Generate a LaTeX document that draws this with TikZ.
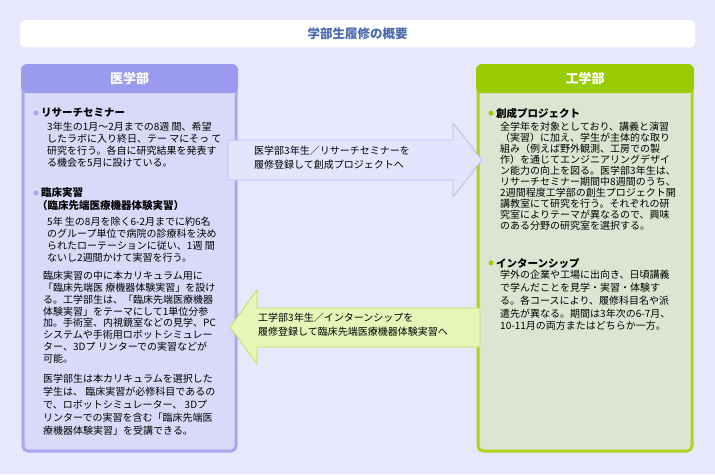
\documentclass[tikz,border=0pt]{standalone}
\usepackage{fontspec}
\setmainfont{Noto Sans CJK JP}
\usetikzlibrary{shadows}
\definecolor{bg}{HTML}{E8E8FC}
\definecolor{lpan}{HTML}{D9D9FA}
\definecolor{lbor}{HTML}{A8A8F2}
\definecolor{lhead}{HTML}{9A9AEE}
\definecolor{rpan}{HTML}{DDE5D2}
\definecolor{rbor}{HTML}{AAD41E}
\definecolor{rhead}{HTML}{99CC00}
\definecolor{ttl}{HTML}{4A6AAE}
\definecolor{larr}{HTML}{E6F5B8}
\definecolor{larrb}{HTML}{C2E060}
\definecolor{rarr}{HTML}{E4E4FD}
\definecolor{rarrb}{HTML}{B8B8F6}
\tikzset{
  para/.style={anchor=north west,align=left,inner sep=0pt,font=\fontsize{10}{11.8}\selectfont},
  head/.style={anchor=west,inner sep=0pt,font=\fontsize{10.5}{12}\selectfont\bfseries},
  lbul/.style={circle,fill=lbor,inner sep=0pt,minimum size=5pt},
  rbul/.style={circle,fill=rhead,inner sep=0pt,minimum size=5pt},
  hdtxt/.style={text=white,font=\fontsize{13}{15}\selectfont\bfseries},
  arrtxt/.style={anchor=north west,align=left,inner sep=0pt,font=\fontsize{10}{13.5}\selectfont}
}
\begin{document}
\begin{tikzpicture}[x=1pt,y=-1pt]
\fill[bg] (0,0) rectangle (715,474);
\useasboundingbox (0,0) rectangle (715,474);
% title
\node[draw=white,fill=white,rounded corners=5pt,minimum width=675,minimum height=27,text=ttl,font=\fontsize{12.5}{14}\selectfont\bfseries] (title) at (357.5,33.5) {学部生履修の概要};
% left panel
\draw[lbor,line width=3pt,fill=lpan,rounded corners=5pt] (23,66) rectangle (236,451);
\fill[lhead,rounded corners=6pt] (21,64) rectangle (238,93);
\node[hdtxt] (lh) at (129.5,78.5) {医学部};
% right panel
\draw[rbor,line width=3pt,fill=rpan,rounded corners=5pt] (478,66) rectangle (692,451);
\fill[rhead,rounded corners=6pt] (476,64) rectangle (694,93);
\node[hdtxt] (rh) at (585,78.5) {工学部};
% right arrow
\draw[rarrb,fill=rarr,line width=0.8pt] (228,140) -- (453,140) -- (453,123) -- (482,160) -- (453,197) -- (453,180) -- (228,180) -- cycle;
\node[arrtxt] (ra) at (254,146) {医学部3年生／リサーチセミナーを\\履修登録して創成プロジェクトへ};
% left arrow
\draw[larrb,fill=larr,line width=0.8pt] (480,308) -- (257,308) -- (257,290) -- (230,327) -- (257,364) -- (257,347) -- (480,347) -- cycle;
\node[arrtxt] (la) at (258,313) {工学部3年生／インターンシップを\\履修登録して臨床先端医療機器体験実習へ};
% left texts
\node[lbul] (b1) at (36,113) {};
\node[head] (h1) at (41,113) {リサーチセミナー};
\node[para] (p1) at (47,122) {3年生の1月～2月までの8週 間、希望\\したラボに入り終日、テー マにそっ て\\研究を行う。各自に研究結果を発表す\\る機会を5月に設けている。};
\node[lbul] (b2) at (36,193) {};
\node[head] (h2) at (41,193) {臨床実習};
\node[head] (h2b) at (37,205.5) {（臨床先端医療機器体験実習）};
\node[para] (p2) at (47,217) {5年 生の8月を除く6-2月までに約6名\\のグループ単位で病院の診療科を決め\\られたローテーションに従い、1週 間\\ないし2週間かけて実習を行う。};
\node[para] (p3) at (43,271) {臨床実習の中に本カリキュラム用に\\「臨床先端医 療機器体験実習」を設け\\る。工学部生は、「臨床先端医療機器\\体験実習」をテーマにして1単位分参\\加。手術室、内視鏡室などの見学、PC\\システムや手術用ロボットシミュレー\\ター、3Dプ リンターでの実習などが\\可能。};
\node[para,font=\fontsize{10}{13}\selectfont] (p4) at (43,374) {医学部生は本カリキュラムを選択した\\学生は、 臨床実習が必修科目であるの\\で、ロボットシミュレーター、 3Dプ\\リンターでの実習を含む「臨床先端医\\療機器体験実習」を受講できる。};
% right texts
\node[rbul] (b3) at (491,113) {};
\node[head] (h3) at (496,113) {創成プロジェクト};
\node[para,font=\fontsize{10}{11}\selectfont] (p5) at (500,122) {全学年を対象としており、講義と演習\\（実習）に加え、学生が主体的な取り\\組み（例えば野外観測、工房での製\\作）を通じてエンジニアリングデザイ\\ン能力の向上を図る。医学部3年生は、\\リサーチセミナー期間中8週間のうち、\\2週間程度工学部の創生プロジェクト開\\講教室にて研究を行う。それぞれの研\\究室によりテーマが異なるので、興味\\のある分野の研究室を選択する。};
\node[rbul] (b4) at (491,263) {};
\node[head] (h4) at (496,263) {インターンシップ};
\node[para,font=\fontsize{10}{12.8}\selectfont] (p6) at (500,270) {学外の企業や工場に出向き、日頃講義\\で学んだことを見学・実習・体験す\\る。各コースにより、履修科目名や派\\遣先が異なる。期間は3年次の6-7月、\\10-11月の両方またはどちらか一方。};
\end{tikzpicture}
\end{document}
